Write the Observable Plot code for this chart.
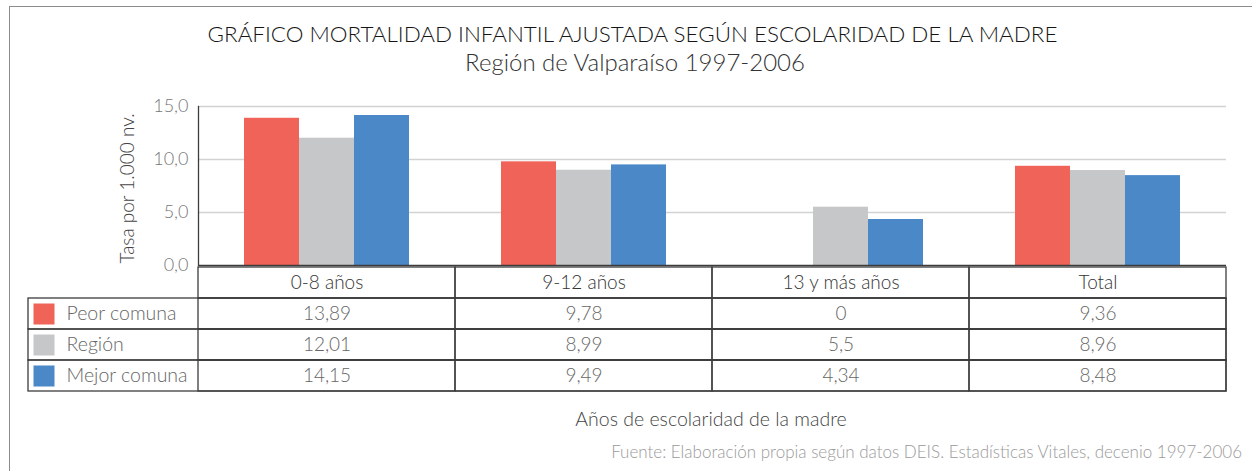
<!DOCTYPE html>
<html><head><meta charset="utf-8">
<script src="https://cdn.jsdelivr.net/npm/d3@7"></script>
<script src="https://cdn.jsdelivr.net/npm/@observablehq/plot@0.6"></script>
<style>
body{margin:0;background:#fff;font-family:Lato,"Open Sans",sans-serif;}
#wrap{position:relative;width:1252px;height:471px;overflow:hidden;background:#fff;}
.abs{position:absolute;white-space:nowrap;}
</style></head><body>
<div id="wrap">
  <div class="abs" style="left:9px;top:6px;width:1300px;height:500px;border-left:1px solid #8c8c8c;border-top:1px solid #8c8c8c;"></div>
  <div id="chart" class="abs" style="left:0;top:0"></div>
  <div id="table" class="abs" style="left:0;top:260px"></div>
  <div id="title" class="abs" style="left:0;width:1265px;top:23.3px;font-size:22.4px;line-height:22.4px;text-align:center;color:#151515;font-weight:300;"></div>
  <div id="subtitle" class="abs" style="left:0;width:1270px;top:50.4px;font-size:24px;line-height:24px;text-align:center;color:#333;font-weight:300;"></div>
  <div id="ytitle" class="abs" style="left:25.6px;top:178.5px;width:200px;height:19px;line-height:19px;font-size:19px;text-align:center;color:#444;font-weight:300;transform:rotate(-90deg);transform-origin:100px 9.5px;"></div>
  <div id="xtitle" class="abs" style="left:197px;width:1028px;top:409.4px;font-size:19.5px;line-height:19.5px;text-align:center;color:#444;font-weight:300;"></div>
  <div id="caption" class="abs" style="right:10px;top:442.9px;font-size:17px;line-height:17px;text-align:right;color:#9a9a9a;font-weight:300;"></div>
</div>
<script>
// ---- data ----
const titleText = "GRÁFICO MORTALIDAD INFANTIL AJUSTADA SEGÚN ESCOLARIDAD DE LA MADRE";
const subtitleText = "Región de Valparaíso 1997-2006";
const yTitle = "Tasa por 1.000 nv.";
const xTitle = "Años de escolaridad de la madre";
const captionText = "Fuente: Elaboración propia según datos DEIS. Estadísticas Vitales, decenio 1997-2006";
const categories = ["0-8 años", "9-12 años", "13 y más años", "Total"];
const series = ["Peor comuna", "Región", "Mejor comuna"];
const peorComuna = [13.89, 9.78, 0, 9.36];
const region = [12.01, 8.99, 5.5, 8.96];
const mejorComuna = [14.15, 9.49, 4.34, 8.48];
const colors = ["#F06359", "#C6C7C9", "#4B88C8"];
const yTicks = [0, 5, 10, 15];

// ---- build ----
const values = [peorComuna, region, mejorComuna];
const rows = categories.flatMap((c, i) => series.map((s, j) => ({cat: c, series: s, value: values[j][i]})));
const fmt1 = d => d.toFixed(1).replace(".", ",");
const fmtV = d => String(d).replace(".", ",");
const font = "Lato, 'Open Sans', sans-serif";
const lineColor = "#3c3c3c";

document.getElementById("title").textContent = titleText;
document.getElementById("subtitle").textContent = subtitleText;
document.getElementById("ytitle").textContent = yTitle;
document.getElementById("xtitle").textContent = xTitle;
document.getElementById("caption").textContent = captionText;

const chart = Plot.plot({
  width: 1252, height: 270,
  marginTop: 106, marginBottom: 5, marginLeft: 197, marginRight: 26,
  style: {background: "transparent", fontFamily: font, overflow: "visible"},
  fx: {domain: categories, padding: 0, axis: null},
  x: {domain: series, paddingInner: 0, paddingOuter: 0.8, axis: null},
  y: {domain: [0, 15]},
  color: {domain: series, range: colors},
  marks: [
    Plot.gridY(yTicks.slice(1), {stroke: "#d2d2d2", strokeOpacity: 1, strokeWidth: 1.5}),
    Plot.barY(rows, {fx: "cat", x: "series", y: "value", fill: "series"}),
    Plot.ruleY([0], {stroke: lineColor, strokeWidth: 1.5}),
    Plot.axisY(yTicks, {tickSize: 0, tickPadding: 10, tickFormat: fmt1, fontSize: 18, fill: "#777", label: null, fontWeight: 300}),
    Plot.frame({anchor: "left", facetAnchor: "left", stroke: lineColor, strokeWidth: 1.3})
  ]
});
document.getElementById("chart").appendChild(chart);

const table = Plot.plot({
  width: 1252, height: 137,
  marginTop: 5, marginBottom: 5, marginLeft: 28, marginRight: 26,
  style: {background: "transparent", fontFamily: font, overflow: "visible"},
  x: {domain: categories, range: [197, 1226], padding: 0, axis: null},
  y: {domain: [" ", ...series], padding: 0, axis: null},
  color: {domain: series, range: colors},
  marks: [
    Plot.cell(series, {y: d => d, stroke: lineColor, strokeWidth: 1.3, fill: "none"}),
    Plot.cell(categories, {x: d => d, y: () => " ", stroke: lineColor, strokeWidth: 1.3, fill: "none"}),
    Plot.cell(rows, {x: "cat", y: "series", stroke: lineColor, strokeWidth: 1.3, fill: "none"}),
    Plot.dot(series, {y: d => d, frameAnchor: "left", dx: 15.5, symbol: "square", r: 11.85, fill: d => d}),
    Plot.text(series, {y: d => d, frameAnchor: "left", dx: 38, textAnchor: "start", text: d => d, fill: "#666", fontSize: 19.5, fontWeight: 300}),
    Plot.text(categories, {x: d => d, y: () => " ", text: d => d, fill: "#333", fontSize: 19, fontWeight: 300}),
    Plot.text(rows, {x: "cat", y: "series", text: d => fmtV(d.value), fill: "#666", fontSize: 19, fontWeight: 300})
  ]
});
document.getElementById("table").appendChild(table);
</script>
</body></html>
